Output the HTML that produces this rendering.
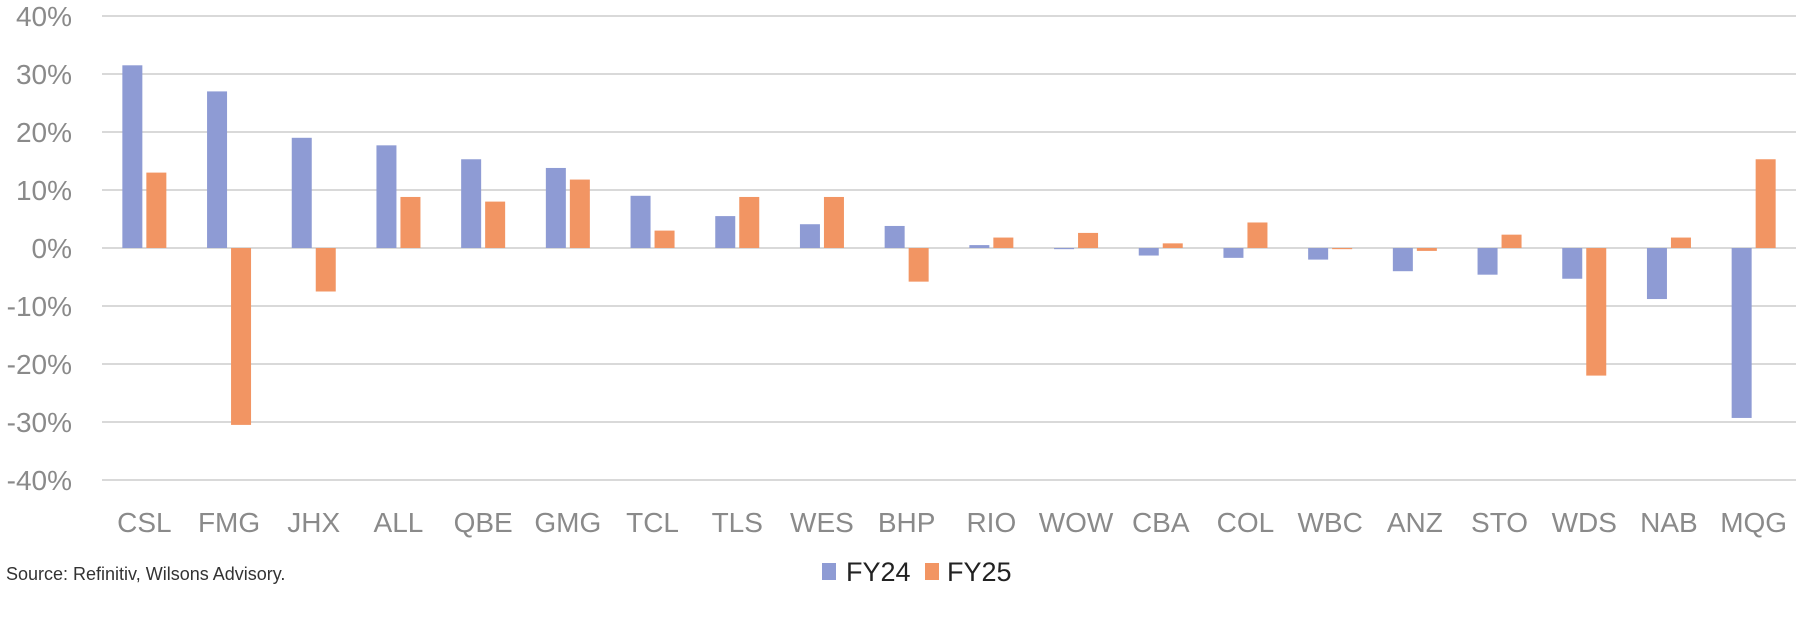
<!DOCTYPE html>
<html><head><meta charset="utf-8"><style>
body{margin:0;background:#fff;}
svg{display:block;font-family:"Liberation Sans",sans-serif;}
</style></head><body>
<svg width="1800" height="617" viewBox="0 0 1800 617" xmlns="http://www.w3.org/2000/svg">
<g stroke="#d9d9d9" stroke-width="2">
<line x1="102" x2="1796" y1="16" y2="16"/><line x1="102" x2="1796" y1="74" y2="74"/>
<line x1="102" x2="1796" y1="132" y2="132"/><line x1="102" x2="1796" y1="190" y2="190"/>
<line x1="102" x2="1796" y1="248" y2="248"/><line x1="102" x2="1796" y1="306" y2="306"/>
<line x1="102" x2="1796" y1="364" y2="364"/><line x1="102" x2="1796" y1="422" y2="422"/>
<line x1="102" x2="1796" y1="480" y2="480"/>
</g>
<g fill="#8a8a8a" font-size="28" text-anchor="end">
<text x="72" y="26">40%</text><text x="72" y="84">30%</text><text x="72" y="142">20%</text>
<text x="72" y="200">10%</text><text x="72" y="258">0%</text><text x="72" y="316">-10%</text>
<text x="72" y="374">-20%</text><text x="72" y="432">-30%</text><text x="72" y="490">-40%</text>
</g>
<g id="bars"></g>
<g id="labels" fill="#8a8a8a" font-size="28" text-anchor="middle"></g>
<text x="6" y="580" font-size="18" fill="#333">Source: Refinitiv, Wilsons Advisory.</text>
<rect x="822" y="563" width="14" height="17" fill="#8e9bd4"/>
<text x="846" y="581" font-size="27" fill="#222">FY24</text>
<rect x="925" y="563" width="14" height="17" fill="#f29563"/>
<text x="947" y="581" font-size="27" fill="#222">FY25</text>
<script>
var d=[["CSL",31.5,13],["FMG",27,-30.5],["JHX",19,-7.5],["ALL",17.7,8.8],["QBE",15.3,8],["GMG",13.8,11.8],["TCL",9,3],["TLS",5.5,8.8],["WES",4.1,8.8],["BHP",3.8,-5.8],["RIO",0.5,1.8],["WOW",-0.2,2.6],["CBA",-1.3,0.8],["COL",-1.7,4.4],["WBC",-2,-0.2],["ANZ",-4,-0.5],["STO",-4.6,2.3],["WDS",-5.3,-22],["NAB",-8.8,1.8],["MQG",-29.3,15.3]];
var ns="http://www.w3.org/2000/svg",b=document.getElementById("bars"),l=document.getElementById("labels");
function r(x,v,c){var e=document.createElementNS(ns,"rect");var y=248-v*5.8;e.setAttribute("x",x);e.setAttribute("width",20);e.setAttribute("y",Math.min(y,248));e.setAttribute("height",Math.max(Math.abs(v*5.8),1));e.setAttribute("fill",c);b.appendChild(e);}
d.forEach(function(a,i){var c=102+84.7*(i+0.5);r(c-22,a[1],"#8e9bd4");r(c+2,a[2],"#f29563");var t=document.createElementNS(ns,"text");t.setAttribute("x",c);t.setAttribute("y",532);t.textContent=a[0];l.appendChild(t);});
</script>
</svg>
</body></html>
